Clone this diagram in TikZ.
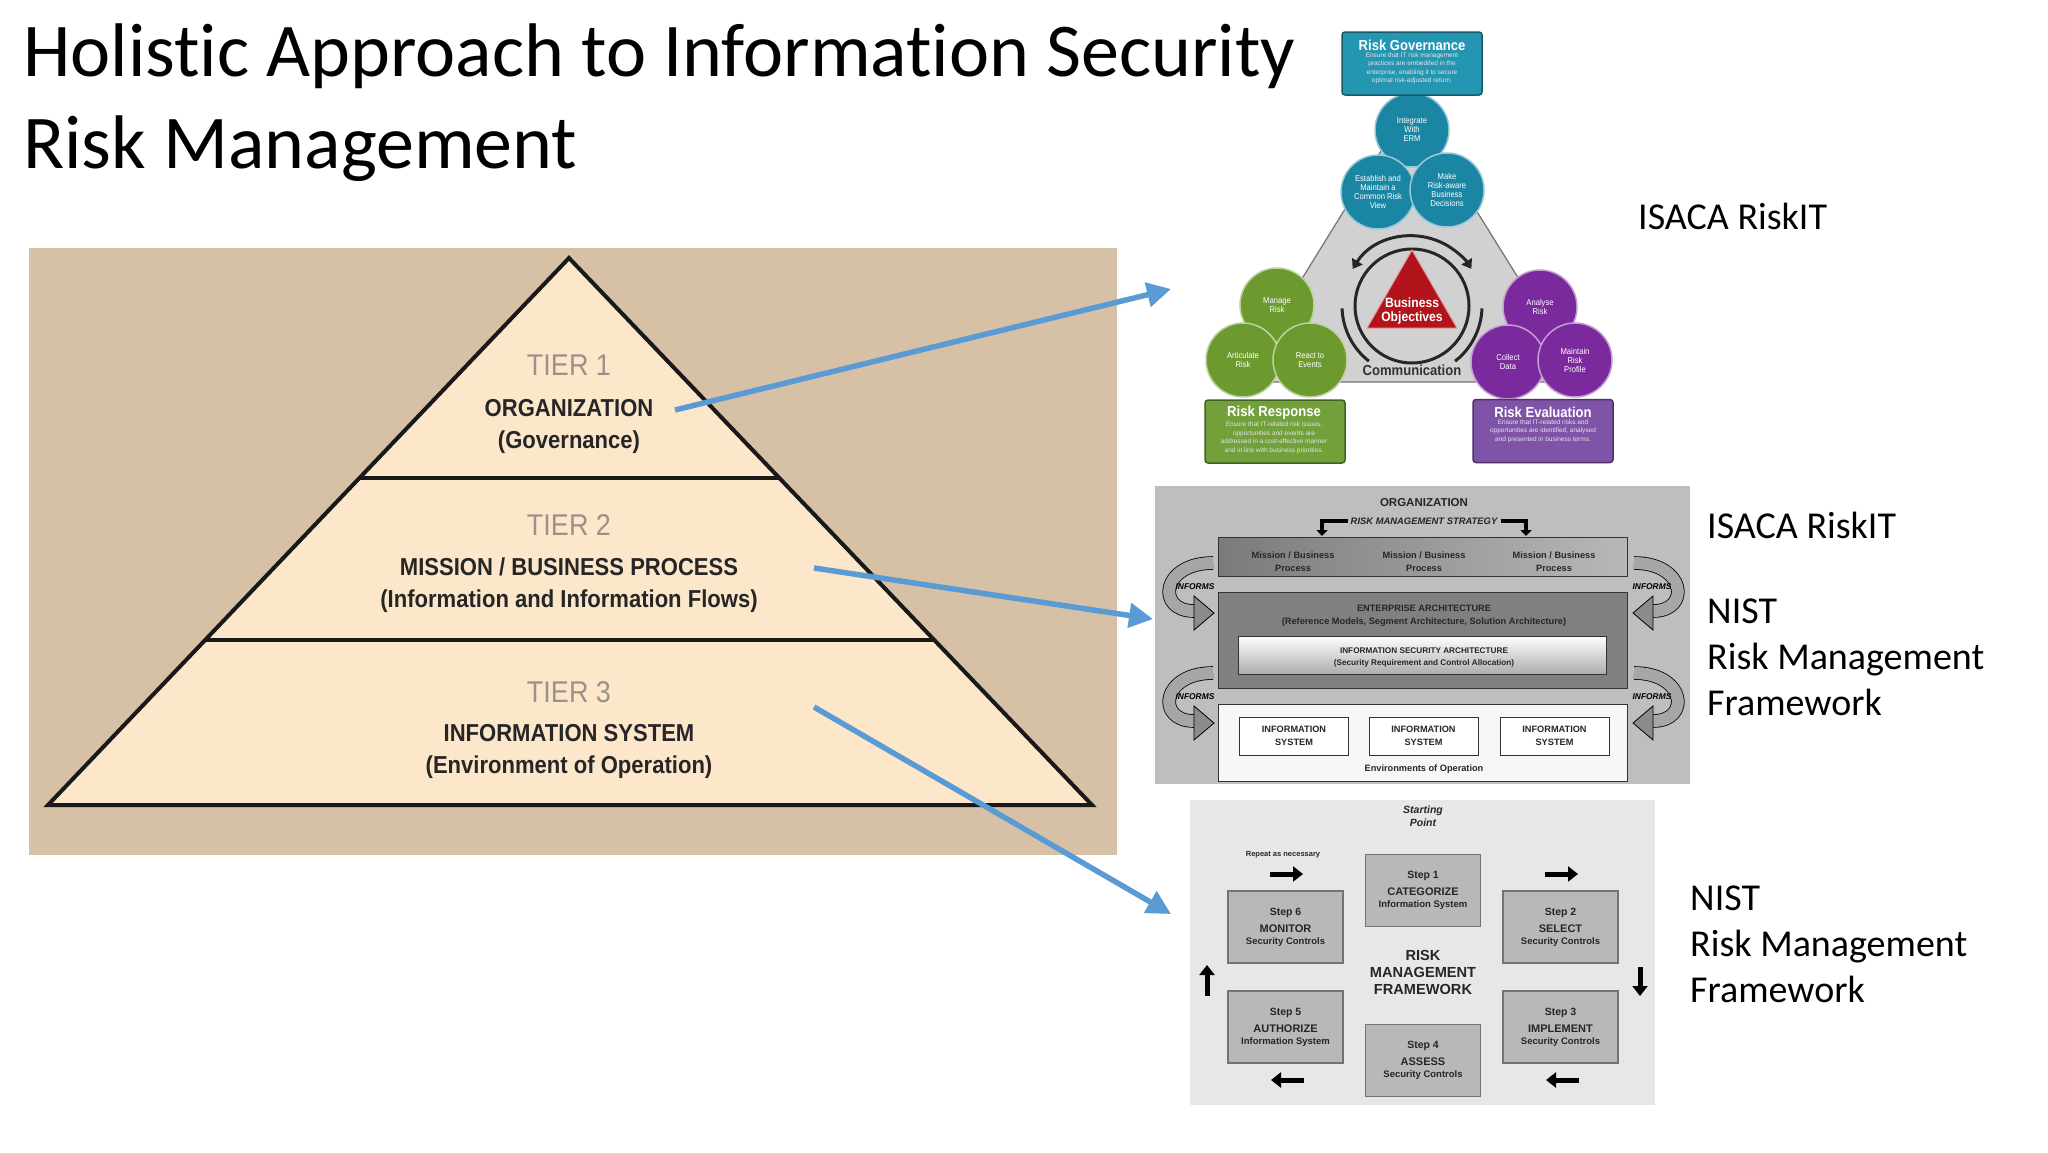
\documentclass[tikz,border=0pt]{standalone}
\usepackage{fontspec}
\setmainfont[Ligatures=NoCommon]{Carlito}
\newfontfamily\arialf{Liberation Sans}
\newfontfamily\narrowf[FakeStretch=0.9]{Liberation Sans}
\usetikzlibrary{arrows.meta,positioning}

\definecolor{tanbg}{HTML}{D6C1A6}
\definecolor{cream}{HTML}{FCE7CB}
\definecolor{tiergrey}{HTML}{9C9189}
\definecolor{linkblue}{HTML}{5B9BD5}
\definecolor{tealc}{HTML}{1B86A4}
\definecolor{tealbox}{HTML}{2596B2}
\definecolor{greenc}{HTML}{6C9A2F}
\definecolor{greenbox}{HTML}{72A03A}
\definecolor{purpc}{HTML}{7A2A9C}
\definecolor{purpbox}{HTML}{7F54A8}
\definecolor{redtri}{HTML}{B3141B}
\definecolor{nistbg}{HTML}{BEBEBE}
\definecolor{rmfbg}{HTML}{E7E7E7}
\definecolor{stepgrey}{HTML}{B8B8B8}

\newcommand\fsz[2]{\fontsize{#1}{#2}\selectfont}
\newcommand\rmftext[3]{\fsz{10.5}{12}#1\\[5pt]\fsz{11}{12}#2\\\fsz{9.5}{12}#3}

\tikzset{
  informs/.pic={
    \draw[line width=0.8pt, double=black!35, double distance=12pt] (0,0) .. controls (-52,0) and (-57,48) .. (-19,48);
    \filldraw[fill=black!45, draw=black, line width=0.8pt] (1,50) -- (-19,33) -- (-19,67) -- cycle;
    \node[font=\arialf\bfseries\itshape\fsz{8.4}{9}] (-inf) at (-18,24) {INFORMS};
  }
}

\begin{document}
\begin{tikzpicture}[x=1pt,y=-1pt,
    title/.style={font=\fsz{76}{90}, anchor=base west, inner sep=0pt},
    sidelabel/.style={font=\fsz{38}{46}, anchor=base west, inner sep=0pt},
    tier/.style={font=\narrowf\fsz{30}{30}, text=tiergrey, anchor=base},
    tiername/.style={font=\narrowf\bfseries\fsz{24.5}{24.5}, text=black!85, anchor=base},
    link/.style={-{Triangle[length=24pt,width=24pt]}, line width=5.5pt, draw=linkblue},
    riskcirc/.style={circle, minimum size=74pt, inner sep=0pt, fill=#1, draw=#1!45!white,
                     line width=1.5pt, text=white, align=center, font=\narrowf\fsz{8.5}{9}},
    riskbox/.style={rounded corners=3pt, fill=#1, draw=#1!60!black, line width=1.5pt,
                    minimum width=140pt, minimum height=63pt},
    boxtitle/.style={font=\narrowf\bfseries\fsz{14.5}{15}, text=white, inner sep=1pt},
    boxtext/.style={font=\arialf\fsz{6.5}{8.5}, text=white!90!black, align=center, inner sep=1pt},
    ringarrow/.style={line width=3pt, black!85, {Triangle[length=9pt,width=12pt]}-{Triangle[length=9pt,width=12pt]}},
    nbox/.style={draw=black!80, line width=1pt, inner sep=0pt},
    nistt/.style={font=\arialf\bfseries\fsz{9.2}{13}, align=center, text=black!85},
    bent/.style={-{Triangle[length=6pt,width=11pt]}, line width=3.5pt},
    rmfstep/.style={draw=black!55, line width=1.5pt, fill=stepgrey, minimum width=115pt,
                    minimum height=72pt, align=center, font=\arialf\bfseries, text=black!85},
    rmfarrow/.style={-{Triangle[length=10pt,width=15pt]}, line width=5pt}]

  \useasboundingbox (0,0) rectangle (2048,1152);
  \fill[white] (0,0) rectangle (2048,1152);

  % title
  \node[title] (t1) at (23,76) {Holistic Approach to Information Security};
  \node[title] (t2) at (23,168) {Risk Management};

  % tiers
  \fill[tanbg] (29,248) rectangle (1117,855);
  \coordinate (apex) at (569,258);
  \coordinate (bl) at (48,805);
  \coordinate (br) at (1092,805);
  \filldraw[fill=cream, draw=black!90, line width=4pt] (apex) -- (bl) -- (br) -- cycle;
  \draw[line width=4pt, black!90] (359,478) -- (779,478);
  \draw[line width=4pt, black!90] (205,640) -- (934,640);

  \node[tier] (tier1) at (569,375) {TIER 1};
  \node[tiername] (org) at (569,416) {ORGANIZATION};
  \node[tiername] (gov) at (569,448) {(Governance)};
  \node[tier] (tier2) at (569,535) {TIER 2};
  \node[tiername] (mbp) at (569,575) {MISSION / BUSINESS PROCESS};
  \node[tiername] (iif) at (569,607) {(Information and Information Flows)};
  \node[tier] (tier3) at (569,702) {TIER 3};
  \node[tiername] (isys) at (569,741) {INFORMATION SYSTEM};
  \node[tiername] (eoo) at (569,773) {(Environment of Operation)};

  % RiskIT
  \filldraw[fill=black!18, draw=black!55, line width=1.2pt] (1410,104) -- (1238,382) -- (1583,382) -- cycle;
  \coordinate (ring) at (1412,306);
  \draw[line width=3pt, black!85] (ring) circle[radius=57];
  \draw[ringarrow] ([shift={(-148:70)}]ring) arc[start angle=-148, end angle=-32, radius=70];
  \draw[line width=3pt, black!85] ([shift={(-182:70)}]ring) arc[start angle=-182, end angle=-232, radius=70];
  \draw[line width=3pt, black!85] ([shift={(52:70)}]ring) arc[start angle=52, end angle=2, radius=70];
  \filldraw[fill=redtri, draw=redtri!40!white, line width=1pt] (1412,250) -- (1367,328) -- (1457,328) -- cycle;
  \node[font=\narrowf\bfseries\fsz{13.5}{14}, text=white, align=center] (bobj) at (1412,311) {Business\\Objectives};
  \node[font=\narrowf\bfseries\fsz{14.5}{15}, text=black!80] (comm) at (1412,370) {Communication};

  \node[riskcirc=tealc] (erm) at (1412,130) {Integrate\\With\\ERM};
  \node[riskcirc=tealc] (crv) at (1378,192) {Establish and\\Maintain a\\Common Risk\\View};
  \node[riskcirc=tealc] (rabd) at (1447,190) {Make\\Risk-aware\\Business\\Decisions};
  \node[riskcirc=greenc] (mrisk) at (1277,305) {Manage\\Risk};
  \node[riskcirc=greenc] (arisk) at (1243,360) {Articulate\\Risk};
  \node[riskcirc=greenc] (react) at (1310,360) {React to\\Events};
  \node[riskcirc=purpc] (anrisk) at (1540,307) {Analyse\\Risk};
  \node[riskcirc=purpc] (cdata) at (1508,362) {Collect\\Data};
  \node[riskcirc=purpc] (mprof) at (1575,360) {Maintain\\Risk\\Profile};

  \node[riskbox=tealbox] (rgov) at (1412,63.5) {};
  \node[boxtitle] (rgovt) at (1412,45) {Risk Governance};
  \node[boxtext, below=0pt of rgovt] (rgovd) {Ensure that IT risk management\\practices are embedded in the\\enterprise, enabling it to secure\\optimal risk-adjusted return.};
  \node[riskbox=greenbox] (rresp) at (1275,431.5) {};
  \node[boxtitle] (rrespt) at (1274,413) {Risk Response};
  \node[boxtext, below=0pt of rrespt] (rrespd) {Ensure that IT-related risk issues,\\opportunities and events are\\addressed in a cost-effective manner\\and in line with business priorities.};
  \node[riskbox=purpbox] (reval) at (1543,431) {};
  \node[boxtitle] (revalt) at (1543,412) {Risk Evaluation};
  \node[boxtext, below=0pt of revalt] (revald) {Ensure that IT-related risks and\\opportunities are identified, analysed\\and presented in business terms.};

  % NIST tiers
  \fill[nistbg] (1155,486) rectangle (1690,784);
  \node[font=\arialf\bfseries\fsz{11.5}{12}, text=black!85] (norg) at (1424,503) {ORGANIZATION};
  \node[font=\arialf\bfseries\itshape\fsz{9.4}{10}, text=black!85, inner sep=3pt] (rms) at (1424,521) {RISK MANAGEMENT STRATEGY};
  \node[nbox, minimum width=409pt, minimum height=39pt, left color=black!52, right color=black!28] (mpbox) at (1422.5,556.5) {};
  \node[nbox, minimum width=409pt, minimum height=96pt, fill=black!50] (eabox) at (1422.5,640) {};
  \node[nbox, minimum width=368pt, minimum height=38pt, top color=white, bottom color=black!32] (isabox) at (1422,655) {};
  \node[nbox, minimum width=409pt, minimum height=77pt, fill=black!3] (envbox) at (1422.5,742.5) {};
  \coordinate (rmsl) at (1322,536);
  \coordinate (rmsr) at (1526,536);
  \draw[bent] (rms.west) -| (rmsl);
  \draw[bent] (rms.east) -| (rmsr);

  \node[nistt] (mp1) at (1293,561.5) {Mission / Business\\Process};
  \node[nistt] (mp2) at (1424,561.5) {Mission / Business\\Process};
  \node[nistt] (mp3) at (1554,561.5) {Mission / Business\\Process};
  \node[nistt] (ea) at (1424,616) {ENTERPRISE ARCHITECTURE\\(Reference Models, Segment Architecture, Solution Architecture)};
  \node[nistt, font=\arialf\bfseries\fsz{8.2}{12}] (isa) at (1424,657) {INFORMATION SECURITY ARCHITECTURE\\(Security Requirement and Control Allocation)};
  \node[nbox, fill=white, minimum width=109pt, minimum height=38pt, nistt] (is1) at (1294,736) {INFORMATION\\SYSTEM};
  \node[nbox, fill=white, minimum width=109pt, minimum height=38pt, nistt] (is2) at (1423.5,736) {INFORMATION\\SYSTEM};
  \node[nbox, fill=white, minimum width=109pt, minimum height=38pt, nistt] (is3) at (1554.5,736) {INFORMATION\\SYSTEM};
  \node[nistt] (envt) at (1424,769) {Environments of Operation};

  \pic (inf1) at (1213,563) {informs};
  \pic (inf2) at (1213,673) {informs};
  \pic[xscale=-1] (inf3) at (1634,563) {informs};
  \pic[xscale=-1] (inf4) at (1634,673) {informs};

  % RMF steps
  \fill[rmfbg] (1190,800) rectangle (1655,1105);
  \node[font=\arialf\bfseries\itshape\fsz{10.5}{13}, align=center, text=black!85] (start) at (1423,816.5) {Starting\\Point};
  \node[font=\arialf\bfseries\fsz{7.5}{8}, text=black!85] (repeat) at (1283,855) {Repeat as necessary};
  \node[rmfstep] (s1) at (1423,890.5) {\rmftext{Step 1}{CATEGORIZE}{Information System}};
  \node[rmfstep] (s2) at (1560.5,927) {\rmftext{Step 2}{SELECT}{Security Controls}};
  \node[rmfstep] (s3) at (1560.5,1027) {\rmftext{Step 3}{IMPLEMENT}{Security Controls}};
  \node[rmfstep] (s4) at (1423,1060.5) {\rmftext{Step 4}{ASSESS}{Security Controls}};
  \node[rmfstep] (s5) at (1285.5,1027) {\rmftext{Step 5}{AUTHORIZE}{Information System}};
  \node[rmfstep] (s6) at (1285.5,927) {\rmftext{Step 6}{MONITOR}{Security Controls}};
  \node[font=\arialf\bfseries\fsz{14.6}{17}, align=center, text=black!85] (rmf) at (1423,972) {RISK\\MANAGEMENT\\FRAMEWORK};

  \coordinate (r1a) at (1270,874); \coordinate (r1b) at (1303,874);
  \coordinate (r2a) at (1545,874); \coordinate (r2b) at (1578,874);
  \coordinate (r3a) at (1640,967); \coordinate (r3b) at (1640,996);
  \coordinate (r4a) at (1579,1080); \coordinate (r4b) at (1546,1080);
  \coordinate (r5a) at (1304,1080); \coordinate (r5b) at (1271,1080);
  \coordinate (r6a) at (1207,996); \coordinate (r6b) at (1207,965);
  \foreach \i in {1,...,6}
    \draw[rmfarrow] (r\i a) -- (r\i b);

  % links between the pictures
  \coordinate (l1s) at (675,410); \coordinate (l1e) at (1171,289);
  \coordinate (l2s) at (814,568); \coordinate (l2e) at (1153,619);
  \coordinate (l3s) at (814,707); \coordinate (l3e) at (1171,914);
  \draw[link] (l1s) -- (l1e);
  \draw[link] (l2s) -- (l2e);
  \draw[link] (l3s) -- (l3e);

  % labels
  \node[sidelabel] (isaca1) at (1638,229) {ISACA RiskIT};
  \node[sidelabel] (isaca2) at (1707,538) {ISACA RiskIT};
  \node[sidelabel] (nist1) at (1707,623) {NIST};
  \node[sidelabel] (nist1b) at ([yshift=-46pt]nist1.base west) {Risk Management};
  \node[sidelabel] (nist1c) at ([yshift=-46pt]nist1b.base west) {Framework};
  \node[sidelabel] (nist2) at (1690,910) {NIST};
  \node[sidelabel] (nist2b) at ([yshift=-46pt]nist2.base west) {Risk Management};
  \node[sidelabel] (nist2c) at ([yshift=-46pt]nist2b.base west) {Framework};
\end{tikzpicture}
\end{document}
